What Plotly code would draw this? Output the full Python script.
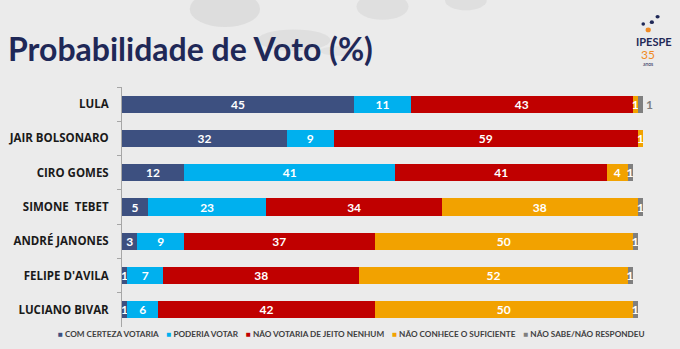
import plotly.graph_objects as go

# Survey data: vote probability by candidate (%)
candidates = ["LULA", "JAIR BOLSONARO", "CIRO GOMES", "SIMONE  TEBET",
              "ANDRÉ JANONES", "FELIPE D'AVILA", "LUCIANO BIVAR"]
series_names = ["COM CERTEZA VOTARIA", "PODERIA VOTAR", "NÃO VOTARIA DE JEITO NENHUM",
                "NÃO CONHECE O SUFICIENTE", "NÃO SABE/NÃO RESPONDEU"]
com_certeza = [45, 32, 12, 5, 3, 1, 1]
poderia = [11, 9, 41, 23, 9, 7, 6]
nao_votaria = [43, 59, 41, 34, 37, 38, 42]
nao_conhece = [1, 1, 4, 38, 50, 52, 50]
nao_sabe = [1, 0, 1, 1, 1, 1, 1]

series_values = [com_certeza, poderia, nao_votaria, nao_conhece, nao_sabe]
colors = ["#3d5080", "#00b0ee", "#c00000", "#f2a200", "#7f7f7f"]

BG = "#ebebeb"
FONT = "Lato"

fig = go.Figure()
n_series = len(series_values)
for i, (name, vals, col) in enumerate(zip(series_names, series_values, colors)):
    positions = ["inside"] * len(vals)
    if i == n_series - 1:
        # last segment of a crowded row: put its label just past the bar end
        prev = nao_conhece
        positions = ["outside" if p <= 1 and v > 0 else "inside" for p, v in zip(prev, vals)]
        positions = [pos if c == "LULA" else "inside" for pos, c in zip(positions, candidates)]
    fig.add_trace(go.Bar(
        y=candidates, x=vals, name=name, orientation="h",
        marker=dict(color=col, line=dict(width=0)),
        text=[str(v) if v > 0 else "" for v in vals],
        textposition=positions, insidetextanchor="middle", textangle=0,
        textfont=dict(family=FONT, size=12, color="white", weight="bold"),
        outsidetextfont=dict(family=FONT, size=12, color="#7f7f7f", weight="bold"),
        cliponaxis=False,
        showlegend=False, hoverinfo="x+name",
    ))

# Compact legend line drawn as a single annotation
legend_parts = []
for name, col in zip(series_names, colors):
    legend_parts.append(f"<span style='color:{col}'>■</span> {name}")
legend_text = "&nbsp;&nbsp;&nbsp;&nbsp;".join(legend_parts)

annotations = [
    dict(text=legend_text, xref="paper", yref="paper", x=0.44, y=-0.03,
         xanchor="center", yanchor="middle", showarrow=False,
         font=dict(family=FONT, size=8.2, color="#404040", weight="bold")),
    dict(text="Probabilidade de Voto (%)", xref="paper", yref="paper",
         x=-0.222, y=1.16, xanchor="left", yanchor="middle", showarrow=False,
         font=dict(family=FONT, size=32, color="#1f2857", weight="bold")),
    # institute mark
    dict(text="IPESPE", xref="paper", yref="paper", x=1.021, y=1.19,
         xanchor="center", yanchor="middle", showarrow=False,
         font=dict(family=FONT, size=11, color="#1f2857", weight="bold")),
    dict(text="35", xref="paper", yref="paper", x=1.01, y=1.135,
         xanchor="center", yanchor="middle", showarrow=False,
         font=dict(family=FONT, size=12, color="#f08a24")),
    dict(text="anos", xref="paper", yref="paper", x=1.01, y=1.097,
         xanchor="center", yanchor="middle", showarrow=False,
         font=dict(family=FONT, size=5, color="#1f2857")),
]

shapes = [
    # faint background ellipses
    dict(type="circle", xref="paper", yref="paper", x0=0.13, x1=0.265, y0=1.25, y1=1.40,
         fillcolor="#dadada", line=dict(width=0), layer="below", opacity=0.8),
    dict(type="circle", xref="paper", yref="paper", x0=0.26, x1=0.40, y0=1.15, y1=1.24,
         fillcolor="#dadada", line=dict(width=0), layer="below", opacity=0.7),
    dict(type="circle", xref="paper", yref="paper", x0=0.45, x1=0.55, y0=1.28, y1=1.39,
         fillcolor="#dadada", line=dict(width=0), layer="below", opacity=0.7),
    dict(type="circle", xref="paper", yref="paper", x0=0.38, x1=0.46, y0=1.13, y1=1.17,
         fillcolor="#dedede", line=dict(width=0), layer="below", opacity=0.7),
    dict(type="circle", xref="paper", yref="paper", x0=0.62, x1=0.70, y0=1.32, y1=1.40,
         fillcolor="#dadada", line=dict(width=0), layer="below", opacity=0.7),
    # logo dots
    dict(type="circle", xref="paper", yref="paper", x0=1.005, x1=1.015, y0=1.228, y1=1.248,
         fillcolor="#f08a24", line=dict(width=0)),
    dict(type="circle", xref="paper", yref="paper", x0=1.013, x1=1.021, y0=1.262, y1=1.278,
         fillcolor="#1f2857", line=dict(width=0)),
    dict(type="circle", xref="paper", yref="paper", x0=1.024, x1=1.032, y0=1.285, y1=1.30,
         fillcolor="#1f2857", line=dict(width=0)),
    dict(type="circle", xref="paper", yref="paper", x0=0.997, x1=1.004, y0=1.255, y1=1.27,
         fillcolor="#1f2857", line=dict(width=0)),
]

fig.update_layout(
    width=680, height=349,
    margin=dict(l=122, r=37, t=87, b=22),
    paper_bgcolor=BG, plot_bgcolor=BG,
    barmode="stack", bargap=0.5,
    uniformtext=dict(minsize=11, mode="show"),
    xaxis=dict(range=[0, 101], visible=False, fixedrange=True),
    yaxis=dict(autorange="reversed", showline=True, linecolor="#a6a6a6", linewidth=1,
               ticks="outside", tickson="boundaries", ticklen=4, tickcolor="#a6a6a6",
               tickfont=dict(family="Open Sans", size=11.5, color="#1a1a1a", weight="bold"),
               ticklabelstandoff=10, automargin=False,
               showgrid=False, zeroline=False),
    annotations=annotations, shapes=shapes,
)

fig.write_html("out.html")
